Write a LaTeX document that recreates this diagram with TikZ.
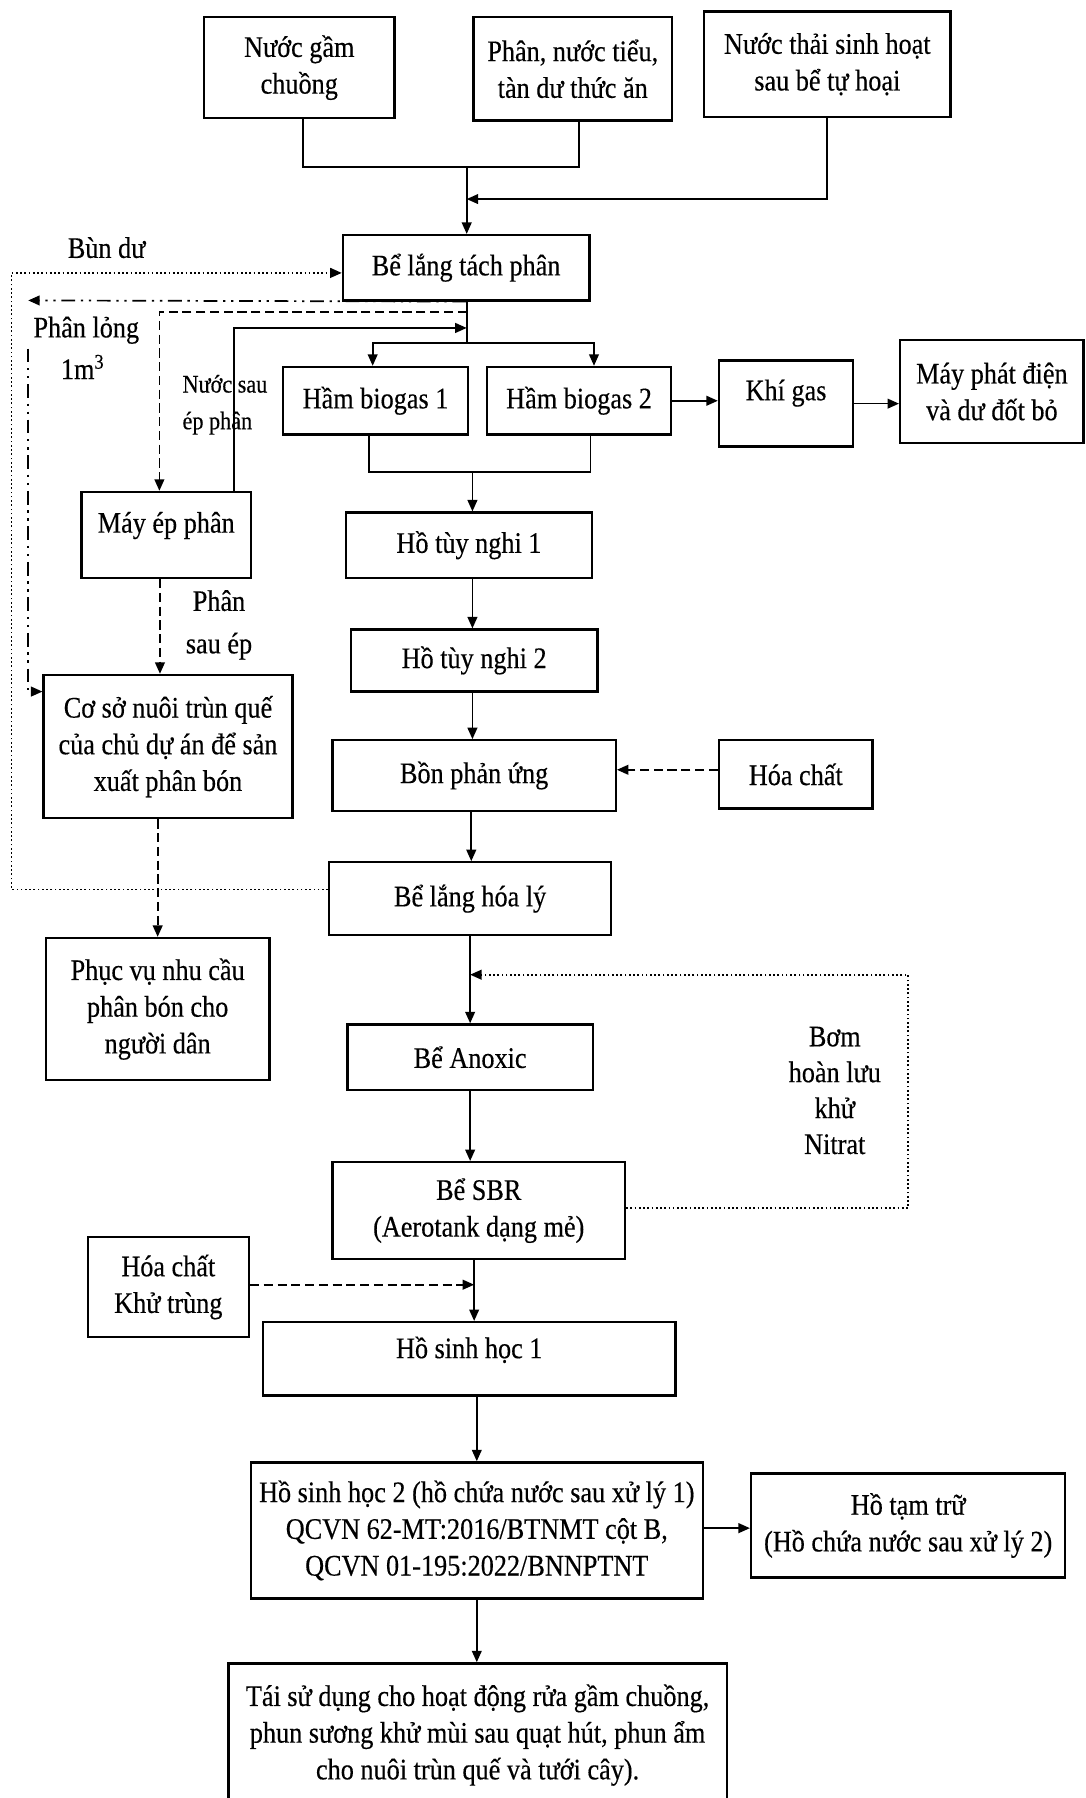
\documentclass[tikz,border=0pt]{standalone}
\usepackage{fontspec}
\setmainfont[FakeStretch=0.88,FakeBold=0.35]{Liberation Serif}
\usetikzlibrary{arrows.meta}
\begin{document}
\begin{tikzpicture}[x=1pt,y=-1pt,
  box/.style={draw, line width=2pt, fill=white, align=center, inner sep=1pt, font=\fontsize{26}{32}\selectfont},
  lbl/.style={align=center, inner sep=0pt, font=\fontsize{26}{32}\selectfont},
  arr/.style={line width=1.5pt, -{Triangle[length=10pt,width=8.5pt]}},
  ln/.style={line width=1.5pt},
  dsh/.style={line width=1.6pt, dash pattern=on 8pt off 4pt},
  dotl/.style={line width=1.6pt, dash pattern=on 1.5pt off 2.2pt},
  ddot/.style={line width=1.6pt, dash pattern=on 12pt off 5pt on 2pt off 5pt on 2pt off 5pt}]
\useasboundingbox (0,0) rectangle (947,1568);
\fill[white] (0,0) rectangle (947,1568);
\clip (0,0) rectangle (947,1568);

% boxes
\node[box, minimum width=166pt, minimum height=88pt] (n1) at (261,59) {Nước gầm\\chuồng};
\node[box, minimum width=173pt, minimum height=90pt] (n2) at (499.5,60) {Phân, nước tiểu,\\tàn dư thức ăn};
\node[box, minimum width=215pt, minimum height=92pt] (n3) at (721.5,56) {Nước thải sinh hoạt\\sau bể tự hoại};
\node[box, minimum width=215pt, minimum height=57pt] (blt) at (406.5,233.5) {Bể lắng tách phân};
\node[box, minimum width=161pt, minimum height=59pt] (hb1) at (327.5,349.5) {Hầm biogas 1};
\node[box, minimum width=160pt, minimum height=59pt] (hb2) at (505,349.5) {Hầm biogas 2};
\node[box, minimum width=117pt, minimum height=75pt, text depth=24pt] (khi) at (685.5,352) {Khí gas};
\node[box, minimum width=160pt, minimum height=90pt] (mpd) at (865,341.5) {Máy phát điện\\và dư đốt bỏ};
\node[box, minimum width=148pt, minimum height=75pt, text depth=22pt] (mep) at (145,466.5) {Máy ép phân};
\node[box, minimum width=214pt, minimum height=57pt] (htn1) at (409,475.5) {Hồ tùy nghi 1};
\node[box, minimum width=215pt, minimum height=54pt] (htn2) at (413.5,576) {Hồ tùy nghi 2};
\node[box, minimum width=247pt, minimum height=61.4pt] (bpu) at (413.5,676.3) {Bồn phản ứng};
\node[box, minimum width=134pt, minimum height=59.4pt] (hc1) at (694,675.3) {Hóa chất};
\node[box, minimum width=217pt, minimum height=125pt] (csn) at (146.5,651.1) {Cơ sở nuôi trùn quế\\của chủ dự án để sản\\xuất phân bón};
\node[box, minimum width=246pt, minimum height=63.5pt] (blhl) at (410,783.75) {Bể lắng hóa lý};
\node[box, minimum width=195pt, minimum height=124pt] (pvn) at (137.5,880) {Phục vụ nhu cầu\\phân bón cho\\người dân};
\node[box, minimum width=214pt, minimum height=57.3pt] (anx) at (410,922) {Bể Anoxic};
\node[box, minimum width=255pt, minimum height=84.5pt] (sbr) at (417.5,1055.75) {Bể SBR\\(Aerotank dạng mẻ)};
\node[box, minimum width=140.4pt, minimum height=87.3pt] (hck) at (146.8,1122.35) {Hóa chất\\Khử trùng};
\node[box, minimum width=359.5pt, minimum height=64pt, text depth=20pt] (hsh1) at (409.25,1185) {Hồ sinh học 1};
\node[box, minimum width=394.4pt, minimum height=118.7pt] (hsh2) at (415.8,1334.65) {Hồ sinh học 2 (hồ chứa nước sau xử lý 1)\\QCVN 62-MT:2016/BTNMT cột B,\\QCVN 01-195:2022/BNNPTNT};
\node[box, minimum width=274pt, minimum height=90.7pt] (htt) at (792,1330.35) {Hồ tạm trữ\\(Hồ chứa nước sau xử lý 2)};
\node[box, minimum width=434.5pt, minimum height=125pt] (tsd) at (416.5,1513.1) {Tái sử dụng cho hoạt động rửa gầm chuồng,\\phun sương khử mùi sau quạt hút, phun ẩm\\cho nuôi trùn quế và tưới cây).};

% labels
\node[lbl] (lbd) at (93,216) {Bùn dư};
\node[lbl, anchor=west] (lpl) at (29,288) {Phân lỏng};
\node[lbl] (lm3) at (72,320) {1m\textsuperscript{3}};
\node[lbl, anchor=west, align=left, font=\fontsize{22}{32}\selectfont] (lns) at (159,353) {Nước sau\\ép phân};
\node[lbl, font=\fontsize{26}{37}\selectfont] (lps) at (191,545) {Phân\\sau ép};
\node[lbl, font=\fontsize{26}{31.3}\selectfont] (lbh) at (728,951) {Bơm\\hoàn lưu\\khử\\Nitrat};

% coordinates
\coordinate (j1) at (407,145.6);
\coordinate (j2) at (407,173.6);
\coordinate (jd) at (407,271.8);
\coordinate (jn) at (407,286);
\coordinate (j3) at (407,299);
\coordinate (j4) at (412,411.6);
\coordinate (cL) at (10,238);
\coordinate (cP) at (24.6,262);
\coordinate (cP2) at (24.6,304);
\coordinate (cR) at (792,850);
\coordinate (xs) at (413.5,1120.35);

% top merge
\draw[ln] ([xshift=3pt]n1.south) |- (j1) -| ([xshift=5.5pt]n2.south);
\draw[arr] (j1) -- (j1 |- blt.north);
\draw[arr] (n3.south) |- (j2);

% below settling tank
\draw[ln] (j1 |- blt.south) -- (j3);
\draw[arr] (j3) -| ([xshift=-2.5pt]hb1.north);
\draw[arr] (j3) -| ([xshift=13pt]hb2.north);
\draw[ln] ([xshift=-5.5pt]hb1.south) |- (j4) -| ([xshift=10pt]hb2.south);
\draw[arr] (j4) -- (j4 |- htn1.north);
\draw[arr] (hb2.east) -- (hb2.east -| khi.west);
\draw[arr] (khi.east) -- (khi.east -| mpd.west);

% press branch
\draw[dsh,arr] (jd) -| ([xshift=-6pt]mep.north);
\draw[arr] ([xshift=59pt]mep.north) |- (jn);
\draw[dsh,arr] ([xshift=-5.5pt]mep.south) -- ([xshift=-5.5pt]mep.south |- csn.north);
\draw[dsh,arr] (csn.south -| pvn.north) -- (pvn.north);

% sludge return
\draw[dotl,arr] ([yshift=8pt]blhl.west) -| (cL) -- (cL -| blt.west);

% liquid manure
\draw[ddot,arr] (blt.south) -- (cP);
\draw[ddot,arr] (cP2) |- ([yshift=48pt]csn.west);

% main line
\draw[arr] (j4 |- htn1.south) -- (j4 |- htn2.north);
\draw[arr] (j4 |- htn2.south) -- (j4 |- bpu.north);
\draw[dsh,arr] ([yshift=4pt]hc1.west) -- ([yshift=4pt]hc1.west -| bpu.east);
\draw[arr] ([xshift=-2.5pt]bpu.south) -- ([xshift=-2.5pt]bpu.south |- blhl.north);
\draw[arr] (blhl.south) -- (blhl.south |- anx.north);
\draw[dotl,arr] ([yshift=2pt]sbr.east) -| (cR) -- (cR -| blhl.south);
\draw[arr] (anx.south) -- (anx.south |- sbr.north);
\draw[arr] (sbr.south -| xs) -- (xs |- hsh1.north);
\draw[dsh,arr] ([yshift=2pt]hck.east) -- (xs);
\draw[arr] (hsh1.south -| hsh2.north) -- (hsh2.north);
\draw[arr] ([yshift=2pt]hsh2.east) -- ([yshift=2pt]hsh2.east -| htt.west);
\draw[arr] (hsh2.south) -- (hsh2.south |- tsd.north);
\end{tikzpicture}
\end{document}
